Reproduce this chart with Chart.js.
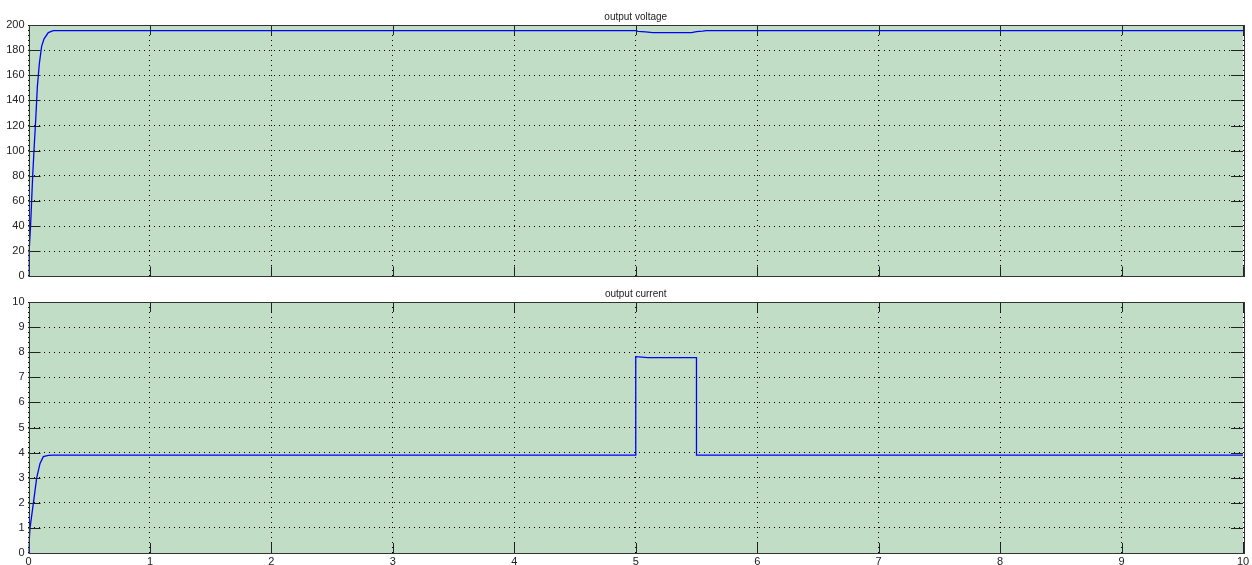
<!DOCTYPE html>
<html>
<head>
<meta charset="utf-8">
<script src="https://cdn.jsdelivr.net/npm/chart.js@4"></script>
<style>
  html, body { margin: 0; padding: 0; background: #fff; }
  .plot { position: absolute; left: 0; width: 1252px; }
  #topBox { top: 0; height: 287px; }
  #bottomBox { top: 283px; height: 282px; }
</style>
</head>
<body>
<div class="plot" id="topBox"><canvas id="voltageChart"></canvas></div>
<div class="plot" id="bottomBox"><canvas id="currentChart"></canvas></div>
<script>
// Données
const timeTicks = [0, 1, 2, 3, 4, 5, 6, 7, 8, 9, 10];
const voltageTicks = [0, 20, 40, 60, 80, 100, 120, 140, 160, 180, 200];
const currentTicks = [0, 1, 2, 3, 4, 5, 6, 7, 8, 9, 10];

const voltageTime = [0, 0.004, 0.018, 0.034, 0.045, 0.059, 0.073, 0.089, 0.108, 0.128, 0.163, 0.204,
    5.0, 5.02, 5.08, 5.14, 5.46, 5.5, 5.55, 5.58, 10];
const voltageValues = [0, 18, 42, 79, 100, 124, 151, 169, 183, 189, 194, 195.5,
    195.5, 195.0, 194.6, 194.0, 194.0, 194.8, 195.1, 195.5, 195.5];

const currentTime = [0, 0.012, 0.04, 0.067, 0.095, 0.122, 0.163, 0.2, 5.0, 5.0, 5.1, 5.5, 5.5, 10];
const currentValues = [0, 0.98, 1.98, 2.98, 3.57, 3.84, 3.89, 3.9, 3.9, 7.82, 7.78, 7.78, 3.9, 3.9];

const plotBg = '#c2ddc6';
const fontFamily = '"Liberation Sans", Arial, sans-serif';

// Fond, cadre, graduations intérieures et titre
const scopePlugin = {
    id: 'scope',
    beforeDraw(chart) {
        const a = chart.chartArea;
        const ctx = chart.ctx;
        ctx.save();
        ctx.fillStyle = plotBg;
        ctx.fillRect(a.left, a.top, a.right - a.left, a.bottom - a.top);
        ctx.restore();
    },
    afterDatasetsDraw(chart, args, opts) {
        const a = chart.chartArea;
        const ctx = chart.ctx;
        const xs = chart.scales.x;
        const ys = chart.scales.y;
        ctx.save();
        ctx.strokeStyle = '#222';
        ctx.lineWidth = 1;
        ctx.beginPath();
        xs.ticks.forEach(t => {
            const px = Math.round(xs.getPixelForValue(t.value)) + 0.5;
            ctx.moveTo(px, a.bottom); ctx.lineTo(px, a.bottom - 10);
            ctx.moveTo(px, a.top); ctx.lineTo(px, a.top + 10);
        });
        ys.ticks.forEach(t => {
            const py = Math.round(ys.getPixelForValue(t.value)) + 0.5;
            ctx.moveTo(a.left, py); ctx.lineTo(a.left + 12, py);
            ctx.moveTo(a.right, py); ctx.lineTo(a.right - 12, py);
        });
        ctx.stroke();
        ctx.strokeStyle = '#333';
        ctx.strokeRect(Math.round(a.left) + 0.5, Math.round(a.top) + 0.5,
            Math.round(a.right - a.left), Math.round(a.bottom - a.top));
        ctx.fillStyle = '#222';
        ctx.font = '10px ' + fontFamily;
        ctx.textAlign = 'center';
        ctx.textBaseline = 'bottom';
        ctx.fillText(opts.text, (a.left + a.right) / 2, a.top - 3);
        ctx.restore();
    }
};

function makeScope(canvasId, title, times, values, yTicks, yMax, showX, pad) {
    const ctx = document.getElementById(canvasId);
    if (!ctx) return;

    new Chart(ctx, {
        type: 'line',
        data: {
            datasets: [{
                data: times.map((t, i) => ({ x: t, y: values[i] })),
                borderColor: '#0000ff',
                borderWidth: 1.3,
                pointRadius: 0,
                tension: 0,
                fill: false
            }]
        },
        options: {
            responsive: true,
            maintainAspectRatio: false,
            animation: false,
            devicePixelRatio: 1,
            layout: { padding: pad },
            plugins: {
                legend: { display: false },
                tooltip: { enabled: false },
                title: { display: false },
                scope: { text: title }
            },
            scales: {
                x: {
                    type: 'linear',
                    min: 0,
                    max: 10,
                    afterBuildTicks(scale) {
                        scale.ticks = timeTicks.map(v => ({ value: v }));
                    },
                    afterFit(scale) { scale.height = showX ? 12 : 7; },
                    grid: { color: '#000', lineWidth: 1, drawTicks: false },
                    border: { display: false, dash: [1, 4] },
                    ticks: {
                        display: showX,
                        padding: 2,
                        color: '#222',
                        font: { family: fontFamily, size: 11 },
                        maxRotation: 0
                    }
                },
                y: {
                    type: 'linear',
                    min: 0,
                    max: yMax,
                    afterBuildTicks(scale) {
                        scale.ticks = yTicks.map(v => ({ value: v }));
                    },
                    afterFit(scale) { scale.width = 28.5; },
                    grid: { color: '#000', lineWidth: 1, drawTicks: false },
                    border: { display: false, dash: [1, 4] },
                    ticks: {
                        padding: 4,
                        color: '#222',
                        font: { family: fontFamily, size: 11 }
                    }
                }
            }
        },
        plugins: [scopePlugin]
    });
}

makeScope('voltageChart', 'output voltage', voltageTime, voltageValues, voltageTicks, 200, false,
    { top: 25, right: 9, bottom: 0, left: 0 });
makeScope('currentChart', 'output current', currentTime, currentValues, currentTicks, 10, true,
    { top: 19, right: 9, bottom: 0, left: 0 });
</script>
</body>
</html>
